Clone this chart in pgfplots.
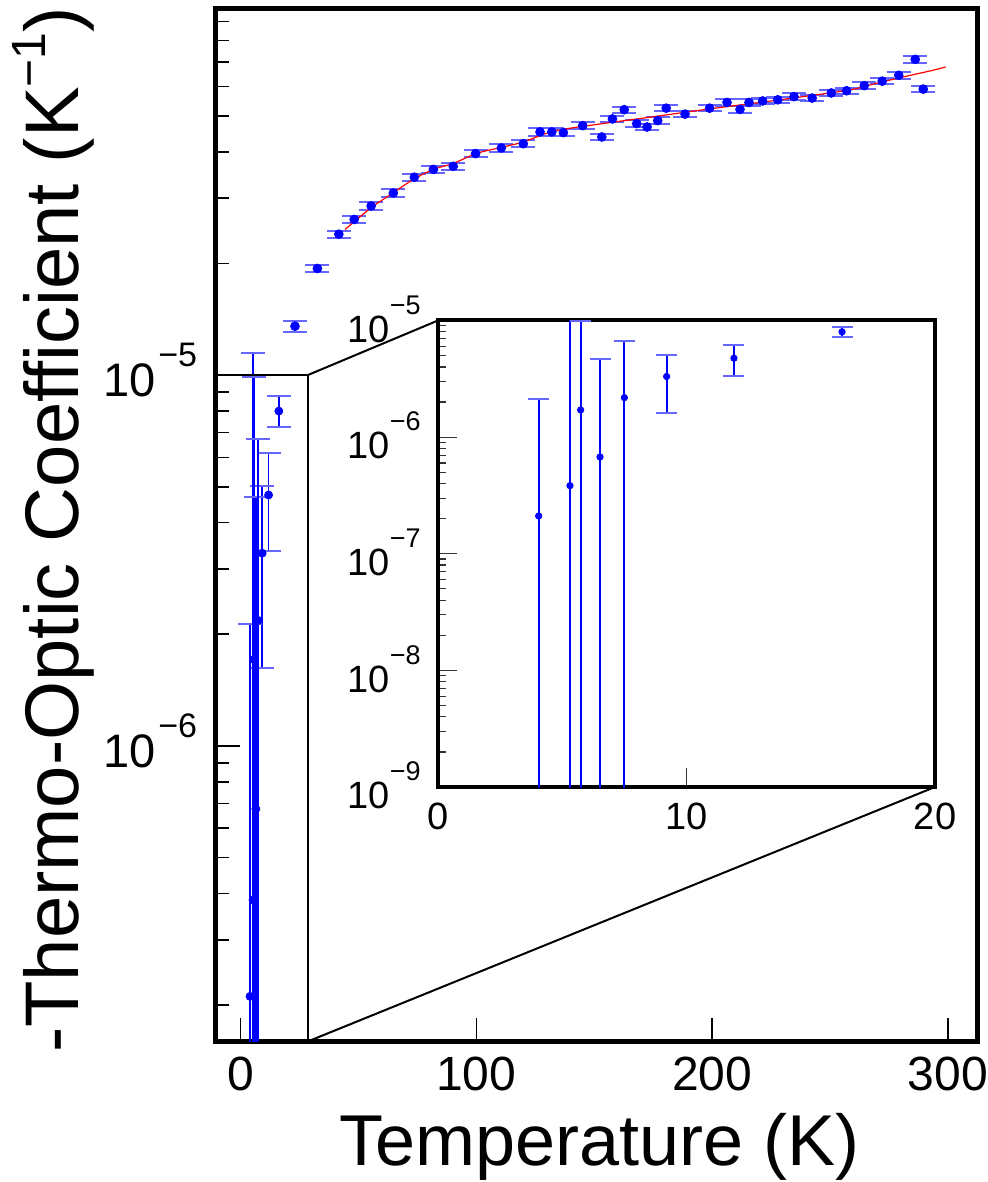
\documentclass[border=0pt]{standalone}
\usepackage{fontspec}
\setmainfont{Liberation Sans}
\usepackage{pgfplots}
\usepackage{pgfplotstable}
\pgfplotsset{compat=1.18}
\newcommand\pw[5]{{\fontsize{#1}{#1}\selectfont 10\kern#5\raisebox{#2}{\fontsize{#3}{#3}\selectfont −#4}}}

\pgfplotstableread{
x y e
23.1 1.355e-5 0.035
32.6 1.94e-5 0.022
41.7 2.40e-5 0.023
48.2 2.63e-5 0.022
55.4 2.86e-5 0.022
64.8 3.10e-5 0.022
73.7 3.42e-5 0.022
81.8 3.59e-5 0.022
90.2 3.66e-5 0.022
99.7 3.96e-5 0.022
110.6 4.10e-5 0.022
119.9 4.21e-5 0.022
127.0 4.53e-5 0.022
132.0 4.53e-5 0.022
136.9 4.51e-5 0.022
145.1 4.71e-5 0.020
153.2 4.39e-5 0.018
157.7 4.91e-5 0.020
162.7 5.20e-5 0.020
168.0 4.77e-5 0.020
172.4 4.67e-5 0.020
176.9 4.86e-5 0.020
180.5 5.25e-5 0.020
188.5 5.06e-5 0.020
198.9 5.25e-5 0.020
206.3 5.44e-5 0.020
211.8 5.21e-5 0.020
215.6 5.44e-5 0.020
221.4 5.49e-5 0.020
227.8 5.53e-5 0.020
234.7 5.64e-5 0.020
242.4 5.59e-5 0.020
250.5 5.77e-5 0.020
257.0 5.85e-5 0.020
264.5 6.04e-5 0.020
272.1 6.21e-5 0.020
279.1 6.44e-5 0.020
286.1 7.11e-5 0.022
289.5 5.91e-5 0.017
}\highT

\pgfplotstableread{
x y ep em
16.26 8.00e-6 0.096 0.095
11.91 4.75e-6 0.301 0.295
9.20 3.31e-6 0.514 0.511
4.05 2.11e-7 9.09 0.9999
5.31 3.84e-7 28.9 0.9999
5.74 1.71e-6 4.79 0.9999
6.52 6.76e-7 5.94 0.9999
7.50 2.18e-6 2.087 0.9999
}\lowT

\pgfplotstableread{
x y
44.3 2.47e-5
50.7 2.675e-5
56.3 2.858e-5
64.8 3.105e-5
73.3 3.374e-5
81.8 3.59e-5
90.3 3.727e-5
100.2 3.966e-5
110.8 4.117e-5
119.9 4.255e-5
129.8 4.492e-5
139.7 4.634e-5
152.4 4.759e-5
172.2 4.95e-5
200.3 5.24e-5
228.7 5.53e-5
257.0 5.86e-5
265.0 6.02e-5
272.0 6.18e-5
279.0 6.33e-5
286.0 6.48e-5
293.0 6.63e-5
299.0 6.78e-5
}\fitT

\begin{document}
\begin{tikzpicture}
\useasboundingbox (-107.75pt,-70.25pt) rectangle (386.25pt,520.75pt);
\begin{axis}[
  name=main, at={(0,0)}, anchor=south west, scale only axis,
  width=381pt, height=516.25pt,
  xmin=-10.6, xmax=312.5, ymode=log, ymin=1.594e-7, ymax=9.72e-5,
  axis line style={line width=2.5pt, black},
  xtick={0,100,200,300}, xticklabels={0,100,200,300},
  ytick={1e-6,1e-5}, yticklabels={\pw{23.5}{15pt}{17}{6}{1.5pt},\pw{23.5}{15pt}{17}{5}{1.5pt}},
  minor ytick={2e-7,3e-7,4e-7,5e-7,6e-7,7e-7,8e-7,9e-7,2e-6,3e-6,4e-6,5e-6,6e-6,7e-6,8e-6,9e-6,2e-5,3e-5,4e-5,5e-5,6e-5,7e-5,8e-5,9e-5},
  xtick pos=bottom, ytick pos=left, tick align=inside,
  major tick length=12pt, minor tick length=6.5pt,
  tick style={black, line width=0.8pt},
  xticklabel style={font=\fontsize{24}{24}\selectfont, inner sep=0pt, yshift=-7.75pt},
  yticklabel style={inner sep=0pt, xshift=-9pt, yshift=2.45pt},
  xlabel={Temperature (K)},
  ylabel={-Thermo-Optic Coefficient (K\raisebox{16.5pt}{\fontsize{24}{24}\selectfont −1})},
  xlabel style={font=\fontsize{36}{36}\selectfont, at={(axis description cs:0.504,-0.1196)}, anchor=base},
  ylabel style={font=\fontsize{38}{38}\selectfont, at={(axis description cs:-0.1804,0.4954)}, anchor=base},
]
\addplot[blue, only marks, mark=*, mark size=2.2pt,
  error bars/.cd, y dir=both, y explicit relative,
  error bar style={line width=0.9pt, blue},
  error mark options={rotate=90, line width=1pt, blue!60, mark size=6pt}]
  table[x=x, y=y, y error=e] {\highT};
\addplot[blue, only marks, mark=*, mark size=2pt,
  error bars/.cd, y dir=both, y explicit relative,
  error bar style={line width=0.9pt, blue},
  error mark options={rotate=90, line width=1pt, blue!60, mark size=6pt}]
  table[x=x, y=y, y error plus=ep, y error minus=em] {\lowT};
\addplot[red, line width=0.6pt, smooth] table[x=x, y=y] {\fitT};
\draw[line width=1pt, black] (axis cs:-10.6,1e-5) -- (axis cs:28.5,1e-5) -- (axis cs:28.5,1.594e-7);
\coordinate (zA) at (axis cs:28.5,1e-5);
\coordinate (zB) at (axis cs:28.5,1.594e-7);
\end{axis}
\begin{axis}[
  name=inset, at={(111.25pt,127.25pt)}, anchor=south west, scale only axis,
  width=248.5pt, height=233.25pt,
  xmin=0, xmax=20, ymode=log, ymin=1e-9, ymax=1e-5,
  axis background/.style={fill=white},
  axis line style={line width=2pt, black},
  xtick={0,10,20}, xticklabels={0,10,20},
  ytick={1e-9,1e-8,1e-7,1e-6,1e-5},
  yticklabels={\pw{19}{14pt}{13.5}{9}{0pt},\pw{19}{14pt}{13.5}{8}{0pt},\pw{19}{14pt}{13.5}{7}{0pt},\pw{19}{14pt}{13.5}{6}{0pt},\pw{19}{14pt}{13.5}{5}{0pt}},
  minor ytick={2e-9,3e-9,4e-9,5e-9,6e-9,7e-9,8e-9,9e-9,2e-8,3e-8,4e-8,5e-8,6e-8,7e-8,8e-8,9e-8,2e-7,3e-7,4e-7,5e-7,6e-7,7e-7,8e-7,9e-7,2e-6,3e-6,4e-6,5e-6,6e-6,7e-6,8e-6,9e-6},
  xtick pos=bottom, ytick pos=left, tick align=inside,
  major tick length=9.5pt, minor tick length=4pt,
  tick style={black!80, line width=0.6pt},
  xticklabel style={font=\fontsize{19}{19}\selectfont, inner sep=0pt, yshift=-8pt},
  yticklabel style={inner sep=0pt, xshift=-8.5pt, yshift=0.7pt},
]
\addplot[blue, only marks, mark=*, mark size=1.6pt,
  error bars/.cd, y dir=both, y explicit relative,
  error bar style={line width=1pt, blue},
  error mark options={rotate=90, line width=1pt, blue!60, mark size=5.25pt}]
  table[x=x, y=y, y error plus=ep, y error minus=em] {\lowT};
\coordinate (iTL) at (rel axis cs:0,1);
\coordinate (iBR) at (rel axis cs:1,0);
\end{axis}
\draw[line width=1pt, black] (zA) -- (iTL);
\draw[line width=1pt, black] (zB) -- (iBR);
\end{tikzpicture}
\end{document}
